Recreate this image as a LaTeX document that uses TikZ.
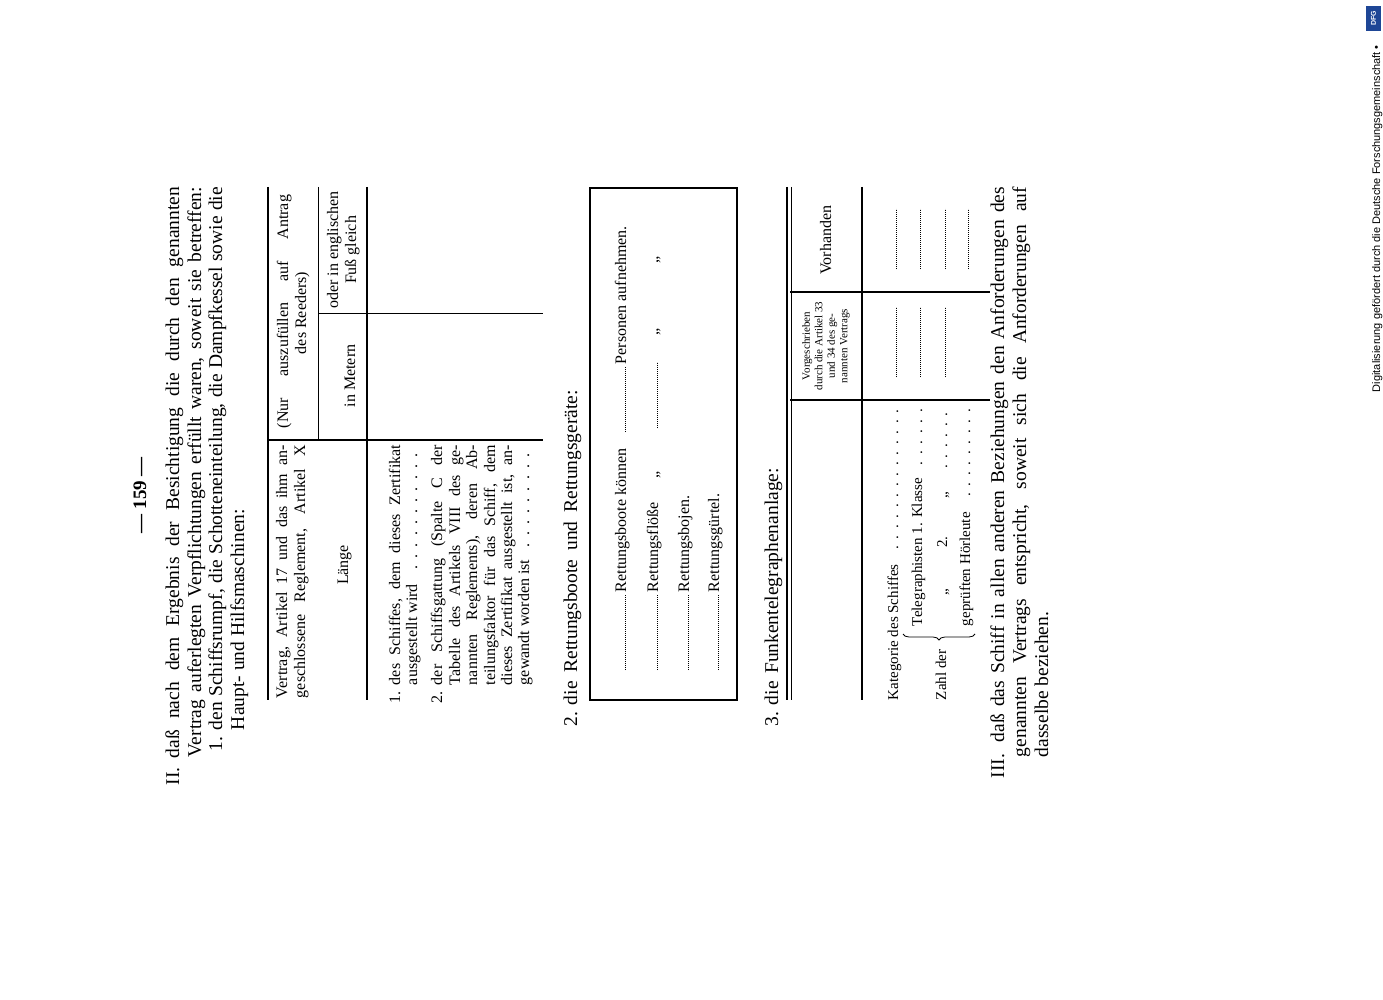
\documentclass[tikz,border=0pt]{standalone}
\usepackage{fontspec}
\setmainfont{Liberation Serif}
\newfontfamily\dfgfont{Liberation Sans}
\usetikzlibrary{decorations.pathreplacing}
\definecolor{dfgblue}{RGB}{30,70,150}
\newcommand\fs[1]{\fontsize{#1}{#1}\selectfont}
\newcommand\jline[2]{\makebox[#1pt][s]{#2}}
\newcommand\dotline[2]{\hbox to #1pt{#2\leaders\hbox to 0.7em{\hss.\hss}\hfill}}
\begin{document}
\begin{tikzpicture}[x=1pt,y=-1pt,
  rt/.style={rotate=90, inner sep=0pt, outer sep=0pt},
  body/.style={rt, anchor=base west, font=\fs{19.5}},
  head/.style={rt, anchor=base west, font=\fs{16}},
  tab/.style={rt, anchor=base west, font=\fs{16}},
  row/.style={rt, anchor=base west, font=\fs{16}},
  rowb/.style={rt, anchor=base west, font=\fs{15}},
  rulethick/.style={line width=2.4pt},
  rulethin/.style={line width=0.7pt},
  boxline/.style={line width=1.6pt},
  dotrule/.style={line width=0.7pt, dash pattern=on 0.6pt off 1.4pt}]
\useasboundingbox[fill=white] (0,0) rectangle (1383,1000);

% page number
\node[rt, anchor=base, font=\fs{19}\bfseries] (pnum) at (146,495) {— 159 —};

% section II
\node[body] (IIlab) at (179,785) {II.};
\node[body] (IIa) at (179,758) {\jline{571}{daß nach dem Ergebnis der Besichtigung die durch den genannten}};
\node[body] (IIb) at (201,757) {\jline{570}{Vertrag auferlegten Verpflichtungen erfüllt waren, soweit sie betreffen:}};
\node[body] (IIc1) at (222,751) {1.};
\node[body] (IIc) at (222,730) {\jline{543}{den Schiffsrumpf, die Schotteneinteilung, die Dampfkessel sowie die}};
\node[body] (IId) at (244,730) {Haupt- und Hilfsmaschinen:};

% table 1 rules
\draw[rulethick] (268,187) -- (268,700);
\draw[rulethick] (367,187) -- (367,700);
\draw[rulethick] (268,440) -- (543,440);
\draw[rulethin] (318,187) -- (318,440);
\draw[rulethin] (318,313) -- (543,313);

% table 1 header
\node[head] (h1a) at (287,698) {\jline{253}{Vertrag, Artikel 17 und das ihm an-}};
\node[head] (h1b) at (305,698) {\jline{253}{geschlossene Reglement, Artikel X}};
\node[head, anchor=base] (laenge) at (348,565) {Länge};
\node[head] (h2a) at (288,428) {\jline{233}{(Nur auszufüllen auf Antrag}};
\node[head, anchor=base] (h2b) at (306,313) {des Reeders)};
\node[head, anchor=base] (metern) at (355,376) {in Metern};
\node[head, anchor=base] (engl1) at (338,250) {oder in englischen};
\node[head, anchor=base] (engl2) at (356,250) {Fuß gleich};

% table 1 body
\node[tab] (b1n) at (400,703) {1.};
\node[tab] (b1a) at (400,685) {\jline{240}{des Schiffes, dem dieses Zertifikat}};
\node[tab] (b1b) at (417,685) {\dotline{240}{ausgestellt wird\ }};
\node[tab] (b2n) at (442,703) {2.};
\node[tab] (b2a) at (442,685) {\jline{240}{der Schiffsgattung (Spalte C der}};
\node[tab] (b2b) at (460,685) {\jline{240}{Tabelle des Artikels VIII des ge-}};
\node[tab] (b2c) at (477,685) {\jline{240}{nannten Reglements), deren Ab-}};
\node[tab] (b2d) at (495,685) {\jline{240}{teilungsfaktor für das Schiff, dem}};
\node[tab] (b2e) at (512,685) {\jline{240}{dieses Zertifikat ausgestellt ist, an-}};
\node[tab] (b2f) at (529,685) {\dotline{240}{gewandt worden ist\ }};

% section 2
\node[body] (s2n) at (577,726) {2.};
\node[body] (s2) at (577,705) {\jline{315}{die Rettungsboote und Rettungsgeräte:}};
\draw[boxline] (590,188) rectangle (737,700);
\foreach \x in {625,657,688,718} \draw[dotrule] (\x,670) -- (\x,595);
\node[row] (r1a) at (626,592) {Rettungsboote können};
\draw[dotrule] (625,432) -- (625,367);
\node[row] (r1b) at (626,364) {Personen aufnehmen.};
\node[row] (r2a) at (658,592) {Rettungsflöße};
\node[row, anchor=base] (r2q1) at (658,475) {„};
\draw[dotrule] (657,428) -- (657,362);
\node[row, anchor=base] (r2q2) at (658,332) {„};
\node[row, anchor=base] (r2q3) at (658,260) {„};
\node[row] (r3) at (689,592) {Rettungsbojen.};
\node[row] (r4) at (719,592) {Rettungsgürtel.};

% section 3
\node[body] (s3n) at (778,726) {3.};
\node[body] (s3) at (778,705) {\jline{237}{die Funkentelegraphenanlage:}};
\draw[rulethick] (787,187) -- (787,700);
\draw[rulethin] (791,187) -- (791,700);
\draw[rulethick] (862,187) -- (862,700);
\draw[rulethick] (790,400) -- (990,400);
\draw[rulethick] (790,292) -- (990,292);
\node[rt, anchor=center, align=center, font=\fontsize{11}{12.5}\selectfont] (vorg) at (826,346) {Vorgeschrieben\\durch die Artikel 33\\und 34 des ge-\\nannten Vertrags};
\node[rt, anchor=base, font=\fs{16}] (vorh) at (831,240) {Vorhanden};
\node[rowb] (kat) at (898,700) {\dotline{295}{Kategorie des Schiffes\ }};
\node[rowb] (zahl) at (946,700) {Zahl der};
\draw[line width=0.8pt, decorate, decoration={brace, amplitude=6pt}] (975,634) -- (903,634);
\node[rowb] (tel1) at (922,626) {\dotline{221}{Telegraphisten 1. Klasse\ }};
\node[rowb, anchor=base] (q1) at (947,592) {„};
\node[rowb, anchor=base] (two) at (947,542) {2.};
\node[rowb, anchor=base] (q2) at (947,495) {„};
\node[rowb] (tel2) at (947,472) {\dotline{67}{}};
\node[rowb] (hoer) at (970,626) {\dotline{221}{geprüften Hörleute\ }};
\foreach \x in {896,920,945} \draw[dotrule] (\x,377) -- (\x,307);
\foreach \x in {896,920,945,968} \draw[dotrule] (\x,269) -- (\x,209);

% section III
\node[body] (IIIlab) at (1004,778) {III.};
\node[body] (IIIa) at (1004,742) {\jline{555}{daß das Schiff in allen anderen Beziehungen den Anforderungen des}};
\node[body] (IIIb) at (1026,757) {\jline{570}{genannten Vertrags entspricht, soweit sich die Anforderungen auf}};
\node[body] (IIIc) at (1048,757) {dasselbe beziehen.};

% margin credit
\node[rt, anchor=base west, font=\dfgfont\fs{11}] (dfg) at (1380,392) {Digitalisierung gefördert durch die Deutsche Forschungsgemeinschaft •};
\fill[dfgblue] (1366,6) rectangle (1381,31);
\node[rt, font=\dfgfont\bfseries\fs{7}, text=white] (logo) at (1373.5,18.5) {DFG};
\end{tikzpicture}
\end{document}
